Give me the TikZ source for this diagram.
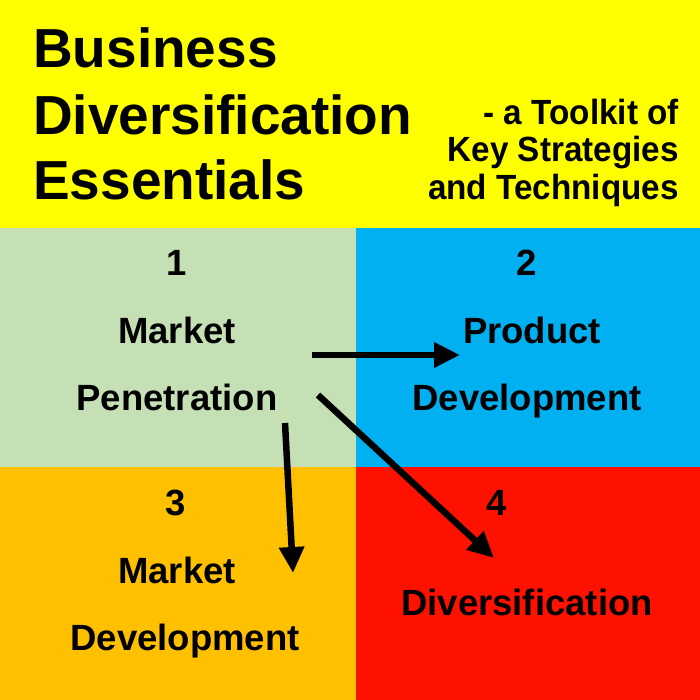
\documentclass[tikz,border=0pt]{standalone}
\usepackage{fontspec}
\setmainfont{Liberation Sans}
\newfontfamily\subfont{Liberation Sans}[FakeStretch=0.95]
\usetikzlibrary{arrows.meta}
\definecolor{ybg}{HTML}{FFFF00}
\definecolor{gbg}{HTML}{C5E0B5}
\definecolor{bbg}{HTML}{00B0F0}
\definecolor{obg}{HTML}{FFC000}
\definecolor{rbg}{HTML}{FF1100}
\begin{document}
\begin{tikzpicture}[x=1pt,y=-1pt,
  titletxt/.style={anchor=base west,inner sep=0pt,font=\fontsize{55}{60}\bfseries\selectfont},
  subtxt/.style={anchor=base east,inner sep=0pt,font=\subfont\fontsize{35}{40}\bfseries\selectfont},
  quadtxt/.style={anchor=base,inner sep=0pt,font=\fontsize{36.5}{40}\bfseries\selectfont},
  bigarrow/.style={line width=6.5pt,-{Triangle[length=26pt,width=24pt]}}]
\useasboundingbox (0,0) rectangle (700,700);
\fill[ybg] (0,0) rectangle (700,228);
\fill[gbg] (0,228) rectangle (356,467);
\fill[bbg] (356,228) rectangle (700,467);
\fill[obg] (0,467) rectangle (356,700);
\fill[rbg] (356,467) rectangle (700,700);
% title
\node[titletxt] (t1) at (33,68) {Business};
\node[titletxt] (t2) at (33,135) {Diversification};
\node[titletxt] (t3) at (33,200) {Essentials};
\node[subtxt] (s1) at (679,125) {- a Toolkit of};
\node[subtxt] (s2) at (679,162) {Key Strategies};
\node[subtxt] (s3) at (679,200) {and Techniques};
% quadrant 1
\node[quadtxt] (n1) at (177,275) {1};
\node[quadtxt] (q1a) at (177,343) {Market};
\node[quadtxt] (q1b) at (177,410) {Penetration};
% quadrant 2
\node[quadtxt] (n2) at (527,275) {2};
\node[quadtxt] (q2a) at (532,343) {Product};
\node[quadtxt] (q2b) at (527,410) {Development};
% quadrant 3
\node[quadtxt] (n3) at (176,515) {3};
\node[quadtxt] (q3a) at (177,583) {Market};
\node[quadtxt] (q3b) at (185,650) {Development};
% quadrant 4
\node[quadtxt] (n4) at (497,515) {4};
\node[quadtxt] (q4a) at (527,615) {Diversification};
% arrows
\coordinate (a1s) at (312,355);
\coordinate (a1e) at (460,355);
\coordinate (a2s) at (285,423);
\coordinate (a2e) at (293,573);
\coordinate (a3s) at (318,395);
\coordinate (a3e) at (494,558);
\draw[bigarrow] (a1s) -- (a1e);
\draw[bigarrow] (a2s) -- (a2e);
\draw[bigarrow] (a3s) -- (a3e);
\end{tikzpicture}
\end{document}
